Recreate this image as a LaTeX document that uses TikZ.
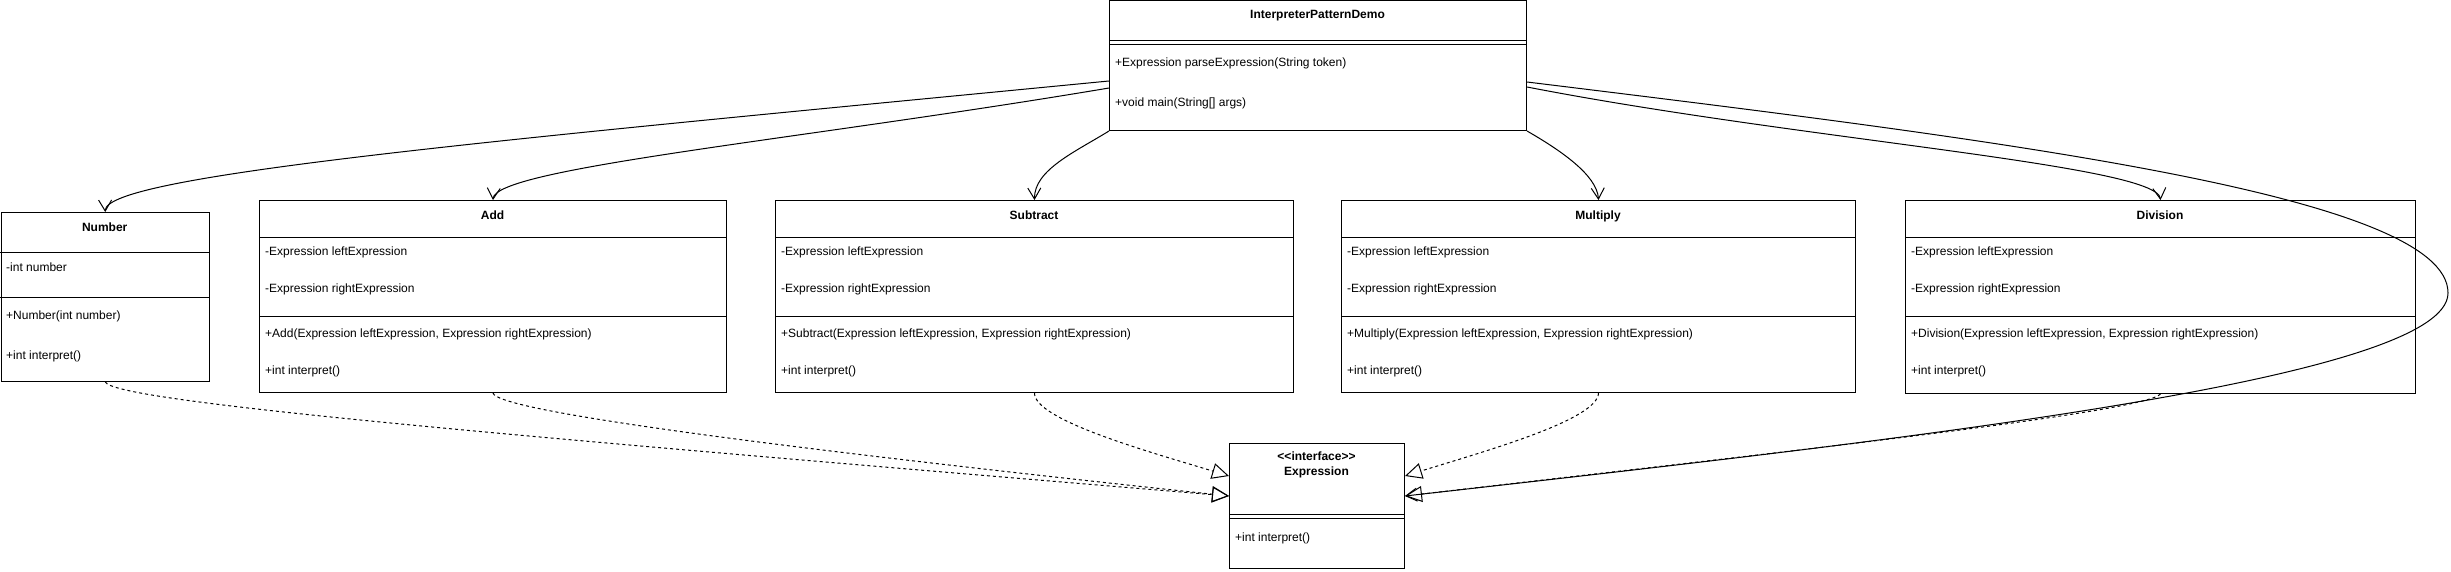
\documentclass[tikz,border=0pt]{standalone}
\usepackage{fontspec}
\setmainfont{Liberation Sans}
\usetikzlibrary{arrows.meta}
\begin{document}
\begin{tikzpicture}[x=1pt,y=-1pt,
  every node/.style={font=\fontsize{12}{14}\selectfont},
  box/.style={draw, line width=1pt, inner sep=0pt, anchor=north west},
  ttl/.style={font=\fontsize{12}{14}\selectfont\bfseries, inner sep=0pt, anchor=center, text height=9pt, text depth=1pt},
  txt/.style={inner sep=0pt, anchor=west, text height=9pt, text depth=1pt},
  sepline/.style={line width=1pt},
  assoc/.style={line width=1pt, -{Straight Barb[length=11pt,width=13pt]}},
  realize/.style={line width=1pt, dash pattern=on 3pt off 3pt, -{Triangle[open,length=17pt,width=16pt]}},
]
\useasboundingbox (0,0) rectangle (2451,572);

% ---------- InterpreterPatternDemo ----------
\node[box, minimum width=417pt, minimum height=129.5pt] (demo) at (1109,0.5) {};
\draw[sepline] (1109,41) -- (1526,41);
\draw[sepline] (1109,45) -- (1526,45);
\node[ttl] (demoT) at (1317.5,15) {InterpreterPatternDemo};
\node[txt] (demoM1) at (1115,63) {+Expression parseExpression(String token)};
\node[txt] (demoM2) at (1115,103) {+void main(String[] args)};

% ---------- Number ----------
\node[box, minimum width=208.5pt, minimum height=169pt] (num) at (0.5,212) {};
\draw[sepline] (0,252) -- (209,252);
\draw[sepline] (0,297) -- (209,297);
\node[ttl] (numT) at (104.75,227) {Number};
\node[txt] (numA1) at (6,267) {-int number};
\node[txt] (numM1) at (6,315) {+Number(int number)};
\node[txt] (numM2) at (6,355) {+int interpret()};

% ---------- Add ----------
\node[box, minimum width=467pt, minimum height=192pt] (add) at (259,200) {};
\draw[sepline] (259,237) -- (726,237);
\draw[sepline] (259,316) -- (726,316);
\node[ttl] (addT) at (492.5,215) {Add};
\node[txt] (addA1) at (265,251) {-Expression leftExpression};
\node[txt] (addA2) at (265,288) {-Expression rightExpression};
\node[txt] (addM1) at (265,333) {+Add(Expression leftExpression, Expression rightExpression)};
\node[txt] (addM2) at (265,370) {+int interpret()};

% ---------- Subtract ----------
\node[box, minimum width=518pt, minimum height=192pt] (sub) at (775,200) {};
\draw[sepline] (775,237) -- (1293,237);
\draw[sepline] (775,316) -- (1293,316);
\node[ttl] (subT) at (1034,215) {Subtract};
\node[txt] (subA1) at (781,251) {-Expression leftExpression};
\node[txt] (subA2) at (781,288) {-Expression rightExpression};
\node[txt] (subM1) at (781,333) {+Subtract(Expression leftExpression, Expression rightExpression)};
\node[txt] (subM2) at (781,370) {+int interpret()};

% ---------- Multiply ----------
\node[box, minimum width=514pt, minimum height=192pt] (mul) at (1341,200) {};
\draw[sepline] (1341,237) -- (1855,237);
\draw[sepline] (1341,316) -- (1855,316);
\node[ttl] (mulT) at (1598,215) {Multiply};
\node[txt] (mulA1) at (1347,251) {-Expression leftExpression};
\node[txt] (mulA2) at (1347,288) {-Expression rightExpression};
\node[txt] (mulM1) at (1347,333) {+Multiply(Expression leftExpression, Expression rightExpression)};
\node[txt] (mulM2) at (1347,370) {+int interpret()};

% ---------- Division ----------
\node[box, minimum width=510pt, minimum height=193pt] (div) at (1905,200) {};
\draw[sepline] (1905,237) -- (2415,237);
\draw[sepline] (1905,316) -- (2415,316);
\node[ttl] (divT) at (2160,215) {Division};
\node[txt] (divA1) at (1911,251) {-Expression leftExpression};
\node[txt] (divA2) at (1911,288) {-Expression rightExpression};
\node[txt] (divM1) at (1911,333) {+Division(Expression leftExpression, Expression rightExpression)};
\node[txt] (divM2) at (1911,370) {+int interpret()};

% ---------- Expression ----------
\node[box, minimum width=175pt, minimum height=125pt] (expr) at (1229,443) {};
\draw[sepline] (1229,514) -- (1404,514);
\draw[sepline] (1229,518) -- (1404,518);
\node[ttl] (exprS) at (1316.5,456) {<\kern0pt<interface>\kern0pt>};
\node[ttl] (exprT) at (1316.5,471) {Expression};
\node[txt] (exprM1) at (1235,537) {+int interpret()};

% ---------- associations from demo ----------
\draw[assoc] ([yshift=-80.5pt]demo.north west) .. controls (500,140) and (104.75,175) .. (num.north);
\draw[assoc] ([yshift=-87.5pt]demo.north west) .. controls (800,140) and (495,168) .. (add.north);
\draw[assoc] (demo.south west) .. controls (1075,152) and (1034,170) .. (sub.north);
\draw[assoc] (demo.south east) .. controls (1560,150) and (1597,175) .. (mul.north);
\draw[assoc] ([yshift=-86.5pt]demo.north east) .. controls (1800,140) and (2157,165) .. (div.north);
\draw[assoc] ([yshift=-81.5pt]demo.north east) .. controls (2000,140) and (2448,195) .. (2448,293)
   .. controls (2448,380) and (1900,440) .. ([yshift=-53pt]expr.north east);

% ---------- realizations to Expression ----------
\draw[realize] (num.south) .. controls (115,402) and (500,435) .. ([yshift=-53pt]expr.north west);
\draw[realize] (add.south) .. controls (497,412) and (800,450) .. ([yshift=-53pt]expr.north west);
\draw[realize] (sub.south) .. controls (1034,420) and (1150,452) .. ([yshift=-33pt]expr.north west);
\draw[realize] (mul.south) .. controls (1598,420) and (1482,452) .. ([yshift=-33pt]expr.north east);
\draw[realize] (div.south) .. controls (2145,412) and (1800,450) .. ([yshift=-53pt]expr.north east);
\end{tikzpicture}
\end{document}
